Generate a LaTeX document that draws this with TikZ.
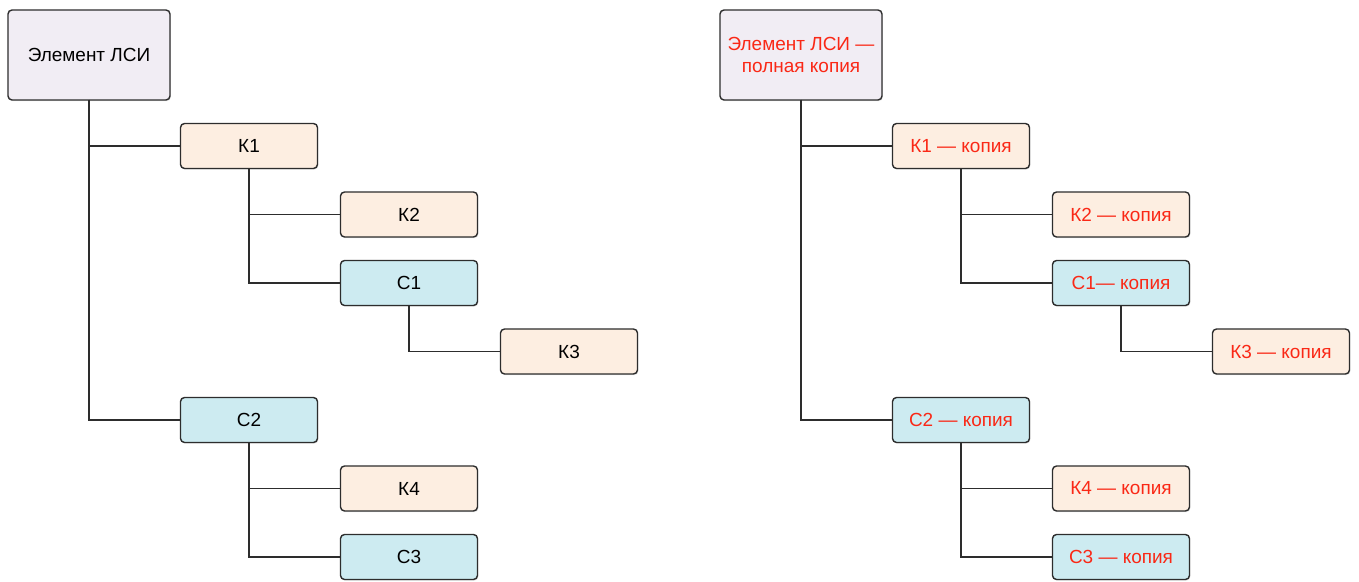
\documentclass[tikz,border=0pt]{standalone}
\usepackage{fontspec}
\setmainfont{Liberation Sans}
\usetikzlibrary{positioning}
\usetikzlibrary{shadows}

\definecolor{rootfill}{RGB}{241,237,244}
\definecolor{kfill}{RGB}{253,238,225}
\definecolor{cfill}{RGB}{205,235,241}
\definecolor{copyred}{RGB}{250,40,22}
\definecolor{boxline}{RGB}{45,45,45}

\begin{document}
\begin{tikzpicture}[
        every node/.style={rectangle, draw=boxline, rounded corners=2.3pt, align=center, line width=0.8pt, outer sep=0pt, font=\fontsize{10.8}{12.5}\selectfont, drop shadow={opacity=0.2, shadow xshift=0.5pt, shadow yshift=-0.7pt}},
        rootbox/.style={fill=rootfill, minimum width=3.24cm, minimum height=1.8cm},
        kbox/.style={fill=kfill, minimum width=2.74cm, minimum height=0.9cm},
        cbox/.style={fill=cfill, minimum width=2.74cm, minimum height=0.9cm},
        copytext/.style={text=copyred},
        link/.style={draw=boxline, line width=1.13pt}
    ]
    \useasboundingbox (0,0) rectangle (27.18,-11.64);

    % Original element
    \node[rootbox] (root) at (1.78,-1.1) {Элемент ЛСИ};
    \node[kbox, below right=0.47cm and 1.83cm of root.south] (k1) {К1};
    \node[kbox, below right=0.47cm and 1.83cm of k1.south] (k2) {К2};
    \node[cbox, below=0.47cm of k2] (c1) {С1};
    \node[kbox, below right=0.47cm and 1.83cm of c1.south] (k3) {К3};
    \node[cbox, below=4.58cm of k1] (c2) {С2};
    \node[kbox, below right=0.47cm and 1.83cm of c2.south] (k4) {К4};
    \node[cbox, below=0.47cm of k4] (c3) {С3};

    % Full copy
    \node[rootbox, copytext, right=11cm of root] (rroot) {Элемент ЛСИ —\\полная копия};
    \node[kbox, copytext, below right=0.47cm and 1.83cm of rroot.south] (rk1) {К1 — копия};
    \node[kbox, copytext, below right=0.47cm and 1.83cm of rk1.south] (rk2) {К2 — копия};
    \node[cbox, copytext, below=0.47cm of rk2] (rc1) {С1— копия};
    \node[kbox, copytext, below right=0.47cm and 1.83cm of rc1.south] (rk3) {К3 — копия};
    \node[cbox, copytext, below=4.58cm of rk1] (rc2) {С2 — копия};
    \node[kbox, copytext, below right=0.47cm and 1.83cm of rc2.south] (rk4) {К4 — копия};
    \node[cbox, copytext, below=0.47cm of rk4] (rc3) {С3 — копия};

    % Links
    \draw[link] (root.south) |- (k1.west);
    \draw[link] (root.south) |- (c2.west);
    \draw[link] (k1.south) |- (k2.west);
    \draw[link] (k1.south) |- (c1.west);
    \draw[link] (c1.south) |- (k3.west);
    \draw[link] (c2.south) |- (k4.west);
    \draw[link] (c2.south) |- (c3.west);

    \draw[link] (rroot.south) |- (rk1.west);
    \draw[link] (rroot.south) |- (rc2.west);
    \draw[link] (rk1.south) |- (rk2.west);
    \draw[link] (rk1.south) |- (rc1.west);
    \draw[link] (rc1.south) |- (rk3.west);
    \draw[link] (rc2.south) |- (rk4.west);
    \draw[link] (rc2.south) |- (rc3.west);
\end{tikzpicture}
\end{document}
